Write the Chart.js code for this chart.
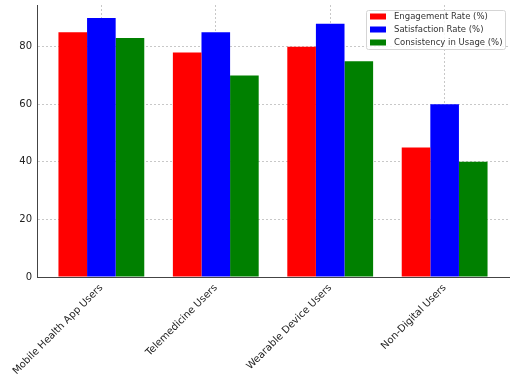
<!DOCTYPE html>
<html>
<head>
<meta charset="utf-8">
<script src="https://cdn.jsdelivr.net/npm/chart.js@4/dist/chart.umd.min.js"></script>
<style>
html,body{margin:0;padding:0;background:#fff;}
#wrap{width:515px;height:378px;}
</style>
</head>
<body>
<div id="wrap"><canvas id="c" width="515" height="378"></canvas></div>
<script>
const categories = ["Mobile Health App Users", "Telemedicine Users", "Wearable Device Users", "Non-Digital Users"];
const engagement = [85, 78, 80, 45];
const satisfaction = [90, 85, 88, 60];
const consistency = [83, 70, 75, 40];
const seriesNames = ["Engagement Rate (%)", "Satisfaction Rate (%)", "Consistency in Usage (%)"];
const seriesColors = ["#ff0000", "#0000ff", "#008000"];
const yTicks = [0, 20, 40, 60, 80];

const toPoints = arr => arr.map((v, i) => ({x: i, y: v}));
const FONT = "'DejaVu Sans', sans-serif";

const legendPlugin = {
  id: 'boxLegend',
  afterDraw(chart) {
    const ctx = chart.ctx;
    const ds = chart.data.datasets;
    const x0 = 366, y0 = 10, w = 139, h = 39;
    ctx.save();
    ctx.fillStyle = 'rgba(255,255,255,0.85)';
    ctx.strokeStyle = '#d5d5d5';
    ctx.lineWidth = 1;
    ctx.beginPath();
    ctx.roundRect(x0 + 0.5, y0 + 0.5, w, h, 2);
    ctx.fill();
    ctx.stroke();
    ctx.font = "8.5px " + FONT;
    ctx.textBaseline = 'middle';
    ds.forEach((d, i) => {
      const cy = 16.5 + i * 13;
      ctx.fillStyle = d.backgroundColor;
      ctx.fillRect(370, cy - 3, 16, 6);
      ctx.fillStyle = '#333';
      ctx.fillText(d.label, 394, cy);
    });
    ctx.restore();
  }
};

new Chart(document.getElementById('c'), {
  type: 'bar',
  data: {
    datasets: [
      {label: seriesNames[0], data: toPoints(engagement), backgroundColor: seriesColors[0]},
      {label: seriesNames[1], data: toPoints(satisfaction), backgroundColor: seriesColors[1]},
      {label: seriesNames[2], data: toPoints(consistency), backgroundColor: seriesColors[2]}
    ]
  },
  options: {
    responsive: false,
    animation: false,
    devicePixelRatio: 1,
    layout: {padding: {top: 5, right: 6, left: 0, bottom: 0}},
    datasets: {bar: {categoryPercentage: 0.75, barPercentage: 1.0, borderWidth: 0}},
    plugins: {legend: {display: false}, tooltip: {enabled: false}},
    scales: {
      x: {
        type: 'linear',
        min: -0.5625,
        max: 3.5625,
        offset: false,
        z: 1,
        afterBuildTicks(scale) { scale.ticks = categories.map((c, i) => ({value: i})); },
        afterFit(scale) { scale.height = 101; scale.paddingLeft = 0; scale.paddingRight = 0; },
        grid: {color: 'rgba(176,176,176,0.7)', drawTicks: false, lineWidth: 1, offset: false},
        border: {display: true, color: '#444', width: 1, dash: [2, 2]},
        ticks: {
          autoSkip: false, minRotation: 45, maxRotation: 45, padding: 5,
          color: '#222', font: {family: FONT, size: 10},
          callback: v => categories[v]
        }
      },
      y: {
        min: 0,
        max: 94.5,
        z: 1,
        afterBuildTicks(scale) { scale.ticks = yTicks.map(v => ({value: v})); },
        afterFit(scale) { scale.width = 37; scale.paddingTop = 0; scale.paddingBottom = 0; },
        grid: {color: 'rgba(176,176,176,0.7)', drawTicks: false, lineWidth: 1},
        border: {display: true, color: '#444', width: 1, dash: [2, 2]},
        ticks: {padding: 5, color: '#222', font: {family: FONT, size: 10}}
      }
    }
  },
  plugins: [legendPlugin]
});
</script>
</body>
</html>
